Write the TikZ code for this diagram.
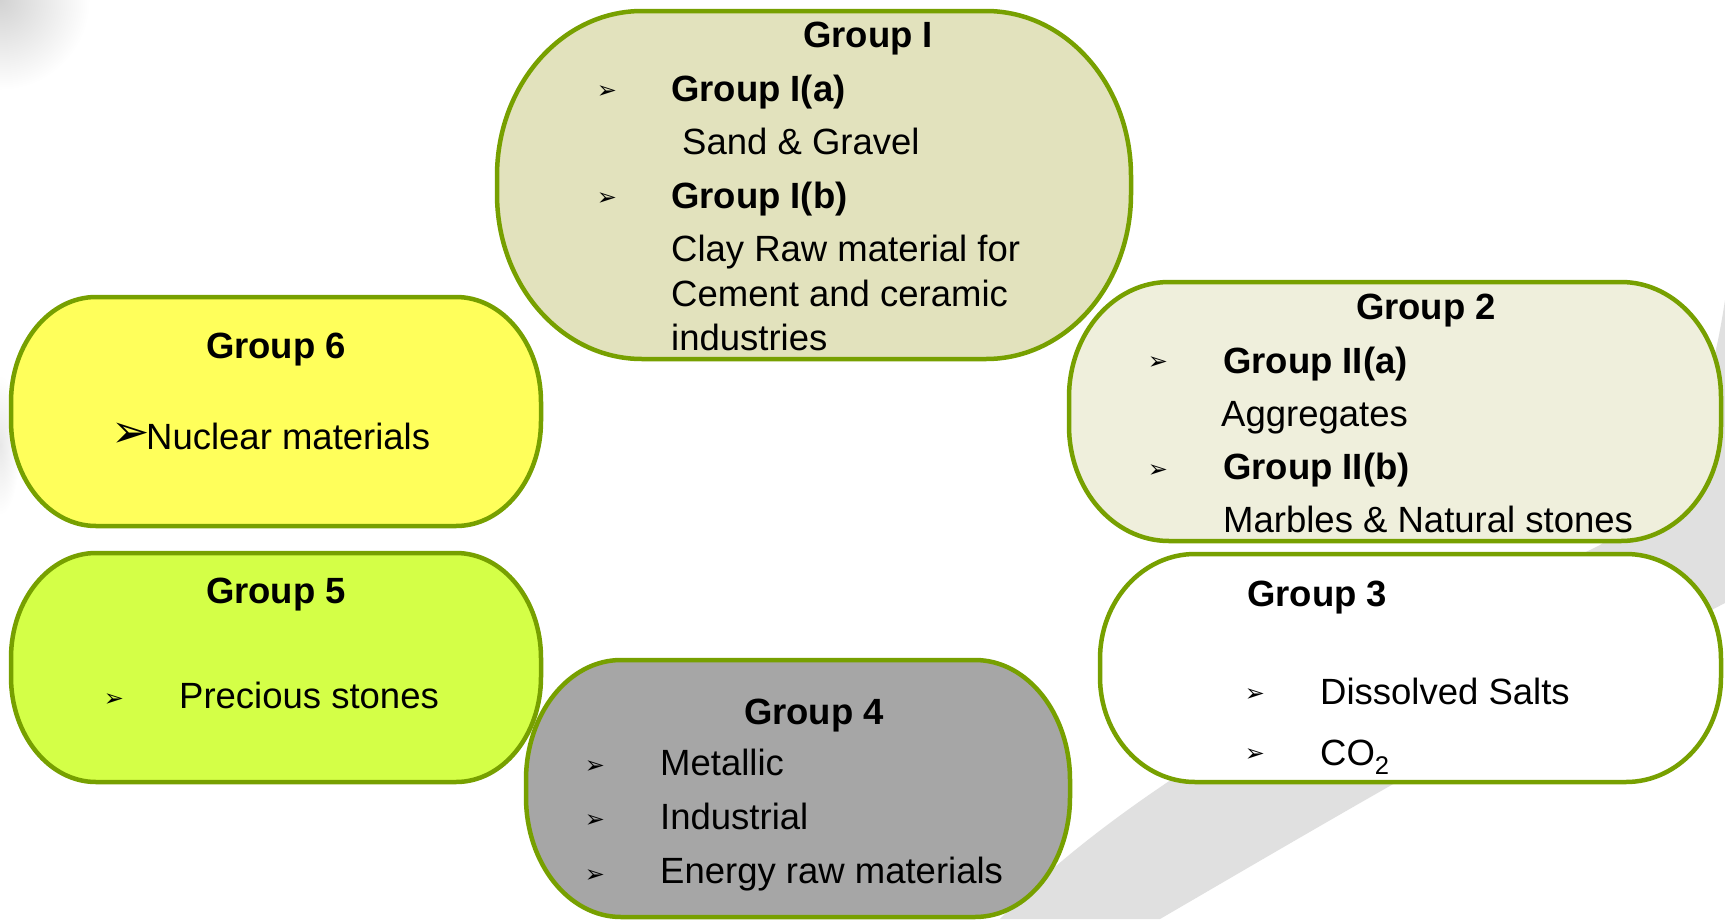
\documentclass[tikz,border=0pt]{standalone}
\usepackage{fontspec}
\setmainfont{Liberation Sans}
\newfontfamily\dvfont{DejaVu Sans}
\definecolor{olivebd}{HTML}{77A000}
\definecolor{gIfill}{HTML}{E2E2BD}
\definecolor{gIIfill}{HTML}{EFEFDC}
\definecolor{gVIfill}{HTML}{FFFF5B}
\definecolor{gVfill}{HTML}{D4FF47}
\definecolor{gIVfill}{HTML}{A6A6A6}
\definecolor{swooshgray}{HTML}{E0E0E0}
\newcommand\gbox[7]{%
 \filldraw[boxline, fill=#7] ({#1+#5},#2) -- ({#3-#5},#2)
  .. controls ({#3-0.4477*#5},#2) and (#3,{#2+0.4477*#6}) .. (#3,{#2+#6})
  -- (#3,{#4-#6})
  .. controls (#3,{#4-0.4477*#6}) and ({#3-0.4477*#5},#4) .. ({#3-#5},#4)
  -- ({#1+#5},#4)
  .. controls ({#1+0.4477*#5},#4) and (#1,{#4-0.4477*#6}) .. (#1,{#4-#6})
  -- (#1,{#2+#6})
  .. controls (#1,{#2+0.4477*#6}) and ({#1+0.4477*#5},#2) .. cycle;}
\begin{document}
\begin{tikzpicture}[x=1pt,y=-1pt,
  font=\fontsize{36.5}{44}\selectfont,
  boxline/.style={draw=olivebd, line width=4.5pt},
  hd/.style={font=\fontsize{36.5}{44}\selectfont\bfseries, anchor=base, inner sep=0},
  bt/.style={font=\fontsize{36.5}{44}\selectfont\bfseries, anchor=base west, inner sep=0},
  tx/.style={anchor=base west, inner sep=0},
  bul/.style={font=\dvfont\fontsize{24}{24}\selectfont, inner sep=0, anchor=center},
  bigbul/.style={font=\dvfont\fontsize{46}{46}\selectfont, inner sep=0, anchor=center}]
\useasboundingbox (0,0) rectangle (1725,919);
\fill[white] (0,0) rectangle (1725,919);
% background decoration
\shade[inner color=gray!35, outer color=white] (0,0) circle (90);
\shade[inner color=gray!18, outer color=white] (0,445) ellipse (20 and 70);
\fill[swooshgray] (1000,919) .. controls (1150,760) and (1450,620) .. (1600,545)
  .. controls (1680,490) and (1710,400) .. (1725,300)
  -- (1725,603) .. controls (1500,720) and (1330,820) .. (1160,919) -- cycle;
% boxes
\gbox{497}{11}{1131}{359}{145}{165}{gIfill}
\gbox{11}{297}{541}{526}{85}{105}{gVIfill}
\gbox{1069}{282}{1721}{541}{100}{115}{gIIfill}
\gbox{11}{553}{541}{782}{85}{105}{gVfill}
\gbox{1100}{554}{1721}{782}{95}{105}{white}
\gbox{526}{660}{1070}{917}{95}{120}{gIVfill}
% Group I
\node[hd] (g1) at (868,47) {Group I};
\node[bul] (g1b1) at (607,92) {➢};
\node[bt] (g1a) at (671,101) {Group I(a)};
\node[tx] (g1at) at (682,154) {Sand \& Gravel};
\node[bul] (g1b2) at (607,199) {➢};
\node[bt] (g1b) at (671,208) {Group I(b)};
\node[tx] (g1bt1) at (671,261) {Clay Raw material for};
\node[tx] (g1bt2) at (671,306) {Cement and ceramic};
\node[tx] (g1bt3) at (671,350) {industries};
% Group 6
\node[hd] (g6) at (276,358) {Group 6};
\node[bigbul] (g6b1) at (131,435) {➢};
\node[tx] (g6t) at (146,449) {Nuclear materials};
% Group 2
\node[hd] (g2) at (1426,319) {Group 2};
\node[bul] (g2b1) at (1158,363) {➢};
\node[bt] (g2a) at (1223,373) {Group II(a)};
\node[tx] (g2at) at (1221,426) {Aggregates};
\node[bul] (g2b2) at (1158,471) {➢};
\node[bt] (g2b) at (1223,479) {Group II(b)};
\node[tx] (g2bt) at (1223,532) {Marbles \& Natural stones};
% Group 3
\node[bt] (g3) at (1247,606) {Group 3};
\node[bul] (g3b1) at (1255,695) {➢};
\node[tx] (g3a) at (1320,704) {Dissolved Salts};
\node[bul] (g3b2) at (1255,755) {➢};
\node[tx] (g3b) at (1320,765) {CO\textsubscript{2}};
% Group 5
\node[hd] (g5) at (276,603) {Group 5};
\node[bul] (g5b1) at (114,700) {➢};
\node[tx] (g5a) at (179,708) {Precious stones};
% Group 4
\node[hd] (g4) at (814,724) {Group 4};
\node[bul] (g4b1) at (595,767) {➢};
\node[tx] (g4a) at (660,775) {Metallic};
\node[bul] (g4b2) at (595,821) {➢};
\node[tx] (g4b) at (660,829) {Industrial};
\node[bul] (g4b3) at (595,876) {➢};
\node[tx] (g4c) at (660,883) {Energy raw materials};
\end{tikzpicture}
\end{document}
